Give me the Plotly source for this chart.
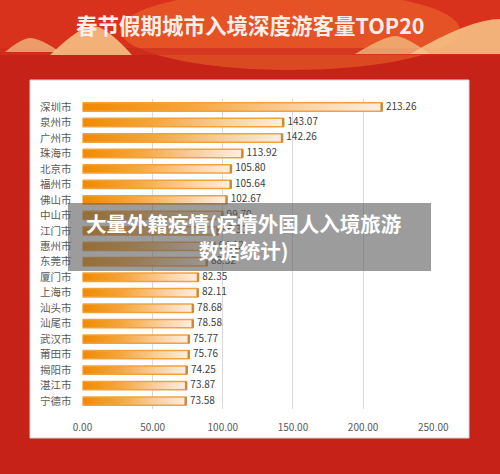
import plotly.graph_objs as go

# data (values under the grey caption are estimates)
cities = ['深圳市', '泉州市', '广州市', '珠海市', '北京市', '福州市', '佛山市', '中山市', '江门市', '惠州市',
          '东莞市', '厦门市', '上海市', '汕头市', '汕尾市', '武汉市', '莆田市', '揭阳市', '湛江市', '宁德市']
visitors = [213.26, 143.07, 142.26, 113.92, 105.80, 105.64, 102.67, 99.70, 96.30, 94.12,
            88.52, 82.35, 82.11, 78.68, 78.58, 75.77, 75.76, 74.25, 73.87, 73.58]
x_ticks = [0, 50, 100, 150, 200, 250]

title = '春节假期城市入境深度游客量TOP20'
caption = '大量外籍疫情(疫情外国人入境旅游<br>数据统计)'

W, H = 500, 474
FONT = 'Noto Sans CJK SC'


def px(x):
    return x / W


def py(y):
    return 1 - y / H


fig = go.Figure()

# bars: gradient filled rectangles, one trace per city
half = 0.27
for i, v in enumerate(visitors):
    fig.add_trace(go.Scatter(
        x=[0, v, v, 0, 0],
        y=[i - half, i - half, i + half, i + half, i - half],
        mode='lines',
        fill='toself',
        fillgradient=dict(type='horizontal',
                          colorscale=[[0, '#f08a00'], [0.35, '#f5a53a'], [0.75, '#fbd3a8'], [1, '#fdeee2']]),
        line=dict(color='#f2a23c', width=1.5),
        hoverinfo='skip',
        showlegend=False,
    ))
    # darker end face for the 3d look
    fig.add_trace(go.Scatter(
        x=[v, v],
        y=[i - half, i + half],
        mode='lines',
        line=dict(color='#c98a3a', width=2.5),
        hoverinfo='skip',
        showlegend=False,
    ))

# value labels, a little right of the bar end
fig.add_trace(go.Scatter(
    x=[v + 3 for v in visitors],
    y=list(range(len(cities))),
    mode='text',
    text=['%.2f' % v for v in visitors],
    textposition='middle right',
    textfont=dict(family=FONT, size=10, color='#404040'),
    hoverinfo='skip',
    showlegend=False,
))

shapes = [
    # banner
    dict(type='rect', xref='paper', yref='paper', x0=0, x1=1, y0=py(55), y1=1,
         fillcolor='#d9321c', line_width=0, layer='below'),
    dict(type='circle', xref='paper', yref='paper', x0=px(120), x1=px(460), y0=py(70), y1=py(-10),
         fillcolor='#f37a30', opacity=0.45, line_width=0, layer='below'),
    dict(type='rect', xref='paper', yref='paper', x0=0, x1=1, y0=py(55), y1=py(48),
         fillcolor='#c8281a', opacity=0.6, line_width=0, layer='below'),
    # golden hills
    dict(type='path', xref='paper', yref='paper', layer='below', line_width=0, fillcolor='#f4c88a', opacity=0.85,
         path='M %f %f Q %f %f %f %f Q %f %f %f %f Z' % (px(50), py(55), px(80), py(26), px(93), py(26),
                                                     px(106), py(26), px(132), py(55))),
    dict(type='path', xref='paper', yref='paper', layer='below', line_width=0, fillcolor='#f4c88a', opacity=0.7,
         path='M %f %f Q %f %f %f %f Q %f %f %f %f Z' % (px(5), py(52), px(22), py(38), px(30), py(38),
                                                     px(40), py(38), px(60), py(52))),
    dict(type='path', xref='paper', yref='paper', layer='below', line_width=0, fillcolor='#f4c88a', opacity=0.7,
         path='M %f %f Q %f %f %f %f Q %f %f %f %f Z' % (px(355), py(54), px(385), py(36), px(395), py(36),
                                                     px(405), py(36), px(430), py(54))),
    dict(type='path', xref='paper', yref='paper', layer='below', line_width=0, fillcolor='#f4c88a', opacity=0.85,
         path='M %f %f Q %f %f %f %f L %f %f Z' % (px(410), py(54), px(470), py(19), px(500), py(19),
                                               px(500), py(54))),
    # white chart panel
    dict(type='rect', xref='paper', yref='paper', x0=px(30), x1=px(469), y0=py(438), y1=py(80),
         fillcolor='white', line=dict(color='#d6d6d6', width=1), layer='below'),
    # grey caption box on top
    dict(type='rect', xref='paper', yref='paper', x0=px(68), x1=px(431), y0=py(271), y1=py(203),
         fillcolor='rgba(90,90,90,0.6)', line_width=0, layer='above'),
]

annotations = [
    dict(text=title, x=0.5, y=py(24), xref='paper', yref='paper', showarrow=False,
         xanchor='center', yanchor='middle',
         font=dict(family=FONT, size=21.5, color='#fbeee8', weight='bold')),
    dict(text=caption, x=px(243), y=py(236), xref='paper', yref='paper', showarrow=False,
         xanchor='center', yanchor='middle',
         align='center', font=dict(family=FONT, size=20.5, color='white', weight='bold')),
]

fig.update_layout(
    width=W,
    height=H,
    autosize=False,
    margin=dict(l=0, r=0, t=0, b=0, pad=0),
    paper_bgcolor='#c62217',
    plot_bgcolor='rgba(0,0,0,0)',
    shapes=shapes,
    annotations=annotations,
    showlegend=False,
    hovermode=False,
    xaxis=dict(
        domain=[px(82.5), px(82.5 + 250 * 1.403)],
        range=[0, 250],
        tickvals=x_ticks,
        tickformat='.2f',
        showgrid=True,
        gridcolor='#d9d9d9',
        gridwidth=1,
        zeroline=False,
        showline=False,
        automargin=False,
        ticks='outside',
        ticklen=9,
        tickcolor='rgba(0,0,0,0)',
        tickfont=dict(family=FONT, size=10, color='#595959'),
    ),
    yaxis=dict(
        domain=[py(408.8), py(99.3)],
        range=[len(cities) - 0.5, -0.5],
        tickvals=list(range(len(cities))),
        ticktext=cities,
        showgrid=False,
        zeroline=False,
        showline=False,
        automargin=False,
        ticks='outside',
        ticklen=8,
        tickcolor='rgba(0,0,0,0)',
        tickfont=dict(family=FONT, size=10.5, color='#595959'),
    ),
)

fig.write_html('out.html', config={'displayModeBar': False},
               post_script="document.body.style.margin='0';")
